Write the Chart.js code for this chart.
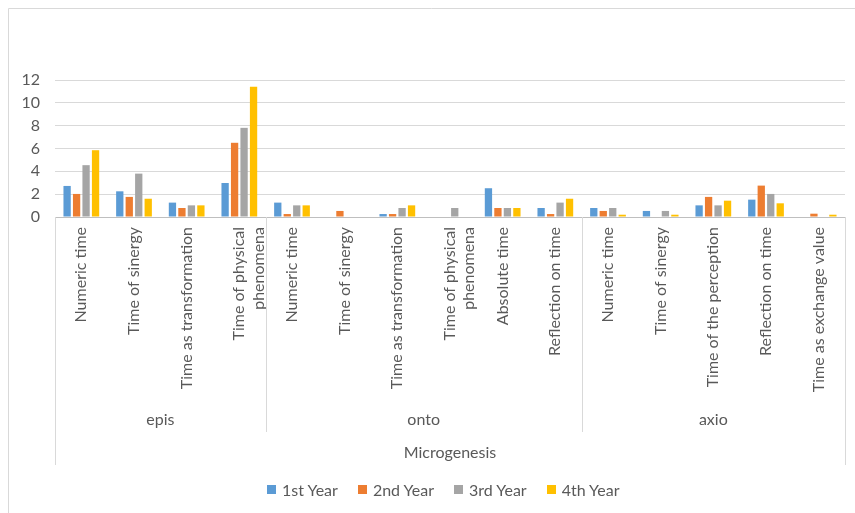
<!DOCTYPE html>
<html>
<head>
<meta charset="utf-8">
<script src="https://cdn.jsdelivr.net/npm/chart.js@4"></script>
<style>
html,body{margin:0;padding:0;background:#fff;}
#wrap{position:relative;width:855px;height:513px;}
#legend{position:absolute;left:267px;top:480px;display:flex;font:16px Lato,sans-serif;color:#595959;}
#legend span{display:flex;align-items:center;margin-right:20px;}
#legend i{display:inline-block;width:9px;height:9px;margin-right:6px;}
</style>
</head>
<body>
<div id="wrap"><canvas id="c" width="855" height="513"></canvas><div id="legend"></div></div>
<script>
const categories=['Numeric time','Time of sinergy','Time as transformation',['Time of physical','phenomena'],
'Numeric time','Time of sinergy','Time as transformation',['Time of physical','phenomena'],'Absolute time','Reflection on time',
'Numeric time','Time of sinergy','Time of the perception','Reflection on time','Time as exchange value'];
const groups=['epis','onto','axio'];
const groupSizes=[4,6,5];
const axisTitle='Microgenesis';
const seriesNames=['1st Year','2nd Year','3rd Year','4th Year'];
const year1=[2.72,2.25,1.26,2.98,1.26,0,0.26,0,2.52,0.79,0.79,0.53,1.02,1.52,0];
const year2=[2.02,1.76,0.79,6.5,0.26,0.53,0.26,0,0.79,0.26,0.53,0,1.76,2.75,0.29];
const year3=[4.54,3.8,1.02,7.81,1.02,0,0.79,0.79,0.79,1.26,0.79,0.53,1.02,2.02,0];
const year4=[5.85,1.6,1.02,11.4,1.02,0,1.02,0,0.79,1.6,0.2,0.2,1.43,1.2,0.2];
const yTicks=[0,2,4,6,8,10,12];
const colors=['#5B9BD5','#ED7D31','#A5A5A5','#FFC000'];

const font='Lato, sans-serif';
const txt='#595959';

// outer frame, group labels and separators
const groupPlugin={
 id:'groups',
 beforeDraw(c){
  const ctx=c.ctx;
  ctx.save();ctx.strokeStyle='#d9d9d9';ctx.lineWidth=1;
  ctx.beginPath();ctx.moveTo(8.5,513);ctx.lineTo(8.5,8.5);ctx.lineTo(855,8.5);ctx.stroke();
  ctx.restore();
 },
 afterDraw(c){
  const ctx=c.ctx,a=c.chartArea;
  const w=(a.right-a.left)/categories.length;
  ctx.save();
  ctx.strokeStyle='#d9d9d9';ctx.lineWidth=1;
  ctx.fillStyle=txt;ctx.font='16px '+font;ctx.textAlign='center';ctx.textBaseline='middle';
  let start=0;
  for(let g=0;g<groups.length;g++){
   const x0=a.left+start*w, x1=a.left+(start+groupSizes[g])*w;
   ctx.fillText(groups[g],(x0+x1)/2,a.bottom+203);
   start+=groupSizes[g];
  }
  let s=0;
  for(let g=0;g<=groups.length;g++){
   const x=Math.round(a.left+s*w)+0.5;
   const outer=(g===0||g===groups.length);
   ctx.beginPath();ctx.moveTo(x,a.bottom);ctx.lineTo(x,a.bottom+(outer?248:215));ctx.stroke();
   if(g<groups.length) s+=groupSizes[g];
  }
  ctx.fillText(axisTitle,(a.left+a.right)/2,a.bottom+236);
  ctx.restore();
 }
};

const years=[year1,year2,year3,year4];
new Chart(document.getElementById('c'),{
 type:'bar',
 data:{labels:categories,datasets:years.map((d,i)=>({label:seriesNames[i],data:d,backgroundColor:colors[i],
  categoryPercentage:0.72,barPercentage:0.77}))},
 options:{
  responsive:false,animation:false,
  layout:{padding:{top:80,right:10,bottom:39,left:0}},
  plugins:{legend:{display:false},tooltip:{enabled:false}},
  scales:{
   x:{
    grid:{display:false,drawTicks:false},
    border:{color:'#bfbfbf'},
    ticks:{autoSkip:false,minRotation:90,maxRotation:90,padding:10,color:txt,font:{family:font,size:16}},
    afterFit(s){s.height=257;}
   },
   y:{
    min:0,max:12,
    grid:{color:'#d9d9d9',drawTicks:false},
    border:{display:false},
    afterBuildTicks(s){s.ticks=yTicks.map(v=>({value:v}));},
    ticks:{padding:15,color:txt,font:{family:font,size:16}},
    afterFit(s){s.width=55;}
   }
  }
 },
 plugins:[groupPlugin]
});

const lg=document.getElementById('legend');
seriesNames.forEach((n,i)=>{
 const s=document.createElement('span');
 s.innerHTML='<i style="background:'+colors[i]+'"></i>'+n;
 lg.appendChild(s);
});
</script>
</body>
</html>
